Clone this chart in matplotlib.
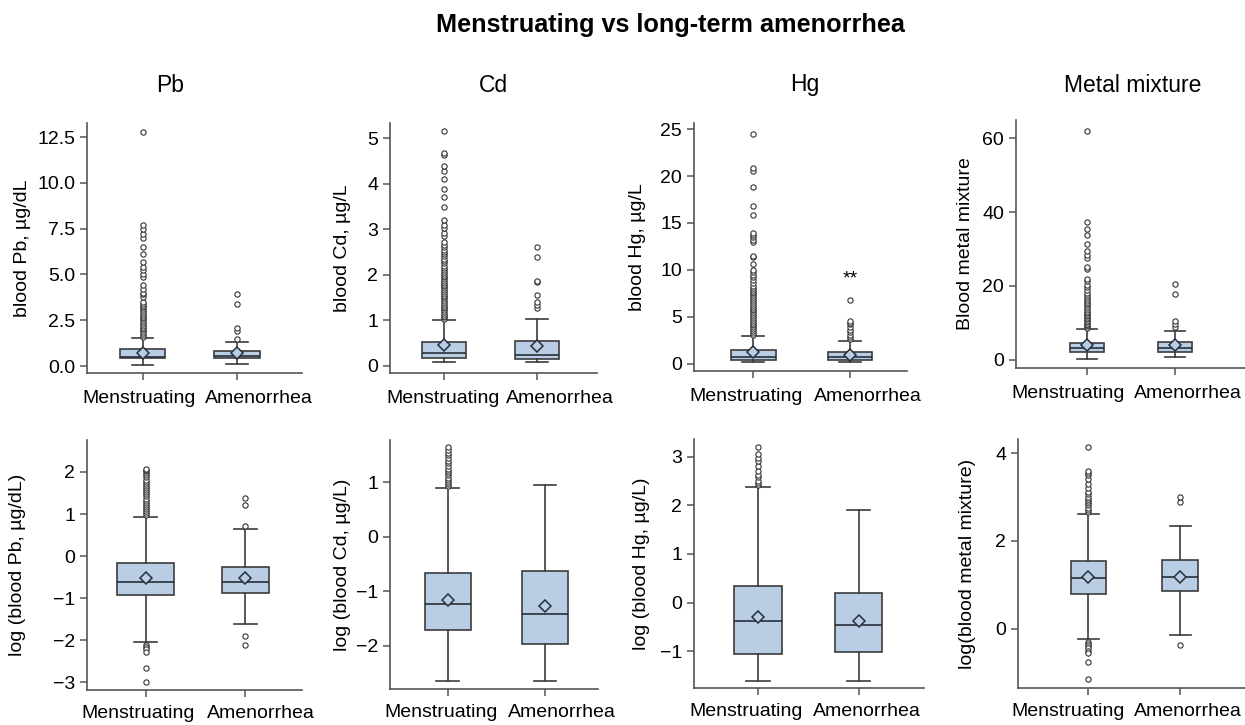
import matplotlib.pyplot as plt
from matplotlib.transforms import offset_copy

plt.rcParams["font.family"] = ["Liberation Sans", "DejaVu Sans"]

groups = ["Menstruating", "Amenorrhea"]
metals = ["Pb", "Cd", "Hg", "Metal mixture"]
raw_labels = ["blood Pb, µg/dL", "blood Cd, µg/L", "blood Hg, µg/L", "Blood metal mixture"]
log_labels = ["log (blood Pb, µg/dL)", "log (blood Cd, µg/L)", "log (blood Hg, µg/L)", "log(blood metal mixture)"]

# ---- raw concentrations (top row), [Menstruating, Amenorrhea] ----
pb_q1, pb_med, pb_q3 = [0.42, 0.45], [0.51, 0.55], [0.91, 0.82]
pb_lo, pb_hi, pb_mean = [0.08, 0.12], [1.55, 1.29], [0.72, 0.70]
pb_fl_m = [1.6, 1.7, 1.8, 1.9, 2.0, 2.1, 2.2, 2.3, 2.4, 2.5, 2.6, 2.7, 2.8, 2.9, 3.0, 3.1,
           3.2, 3.3, 3.4, 3.5, 3.78, 3.92, 4.0, 4.18, 4.45, 4.87, 5.05, 5.23, 5.41, 5.69,
           6.1, 6.5, 7.0, 7.23, 7.5, 7.72, 12.8]
pb_fl_a = [1.5, 1.93, 2.1, 3.38, 3.92]

cd_q1, cd_med, cd_q3 = [0.18, 0.14], [0.29, 0.23], [0.51, 0.54]
cd_lo, cd_hi, cd_mean = [0.08, 0.08], [1.0, 1.03], [0.45, 0.44]
cd_fl_m = [1.02, 1.06, 1.1, 1.14, 1.18, 1.22, 1.26, 1.3, 1.34, 1.38, 1.42, 1.46, 1.5, 1.54,
           1.58, 1.62, 1.66, 1.7, 1.74, 1.78, 1.82, 1.86, 1.9, 1.94, 1.98, 2.02, 2.06, 2.1,
           2.15, 2.2, 2.25, 2.3, 2.35, 2.4, 2.45, 2.5, 2.55, 2.6, 2.65, 2.71, 2.84, 2.91,
           3.02, 3.1, 3.2, 3.48, 3.7, 3.89, 4.1, 4.28, 4.39, 4.62, 4.68, 5.15]
cd_fl_a = [1.26, 1.33, 1.39, 1.55, 1.83, 1.87, 2.38, 2.6]

hg_q1, hg_med, hg_q3 = [0.43, 0.43], [0.75, 0.78], [1.46, 1.24]
hg_lo, hg_hi, hg_mean = [0.25, 0.25], [2.98, 2.49], [1.24, 1.0]
hg_fl_m = [3.1, 3.3, 3.5, 3.7, 3.9, 4.1, 4.3, 4.5, 4.7, 4.9, 5.1, 5.3, 5.5, 5.7, 5.9, 6.1,
           6.3, 6.5, 6.7, 6.9, 7.1, 7.3, 7.5, 7.7, 7.9, 8.1, 8.3, 8.6, 8.9, 9.2, 9.5, 9.8,
           10.0, 10.6, 11.4, 11.5, 13.0, 13.2, 13.5, 13.7, 13.9, 15.8, 16.8, 18.8, 20.5,
           20.9, 24.5]
hg_fl_a = [2.7, 2.9, 3.1, 3.4, 3.6, 3.9, 4.2, 4.4, 4.6, 6.8]

mx_q1, mx_med, mx_q3 = [2.08, 2.1], [3.16, 3.2], [4.5, 4.8]
mx_lo, mx_hi, mx_mean = [0.2, 0.6], [8.3, 7.85], [3.97, 3.9]
mx_fl_m = [8.6, 9.0, 9.4, 9.8, 10.2, 10.6, 11.0, 11.4, 11.8, 12.2, 12.6, 13.0, 13.5, 14.0,
           14.5, 15.0, 15.5, 16.0, 16.5, 17.0, 17.5, 18.0, 19.0, 19.7, 20.3, 21.3, 22.0,
           24.5, 25.0, 27.5, 28.3, 29.5, 31.3, 33.8, 35.5, 37.3, 62.0]
mx_fl_a = [8.9, 9.6, 10.6, 17.8, 20.5]

# ---- log concentrations (bottom row) ----
lpb_q1, lpb_med, lpb_q3 = [-0.92, -0.87], [-0.61, -0.61], [-0.17, -0.25]
lpb_lo, lpb_hi, lpb_mean = [-2.04, -1.61], [0.94, 0.64], [-0.51, -0.53]
lpb_fl_m = [0.97, 1.02, 1.07, 1.12, 1.17, 1.22, 1.27, 1.32, 1.37, 1.42, 1.47, 1.52, 1.57,
            1.62, 1.67, 1.72, 1.77, 1.82, 1.87, 1.92, 1.97, 2.02, 2.05, 2.08,
            -2.1, -2.15, -2.2, -2.28, -2.66, -2.98]
lpb_fl_a = [0.72, 1.22, 1.38, -1.9, -2.1]

lcd_q1, lcd_med, lcd_q3 = [-1.71, -1.97], [-1.235, -1.42], [-0.67, -0.63]
lcd_lo, lcd_hi, lcd_mean = [-2.65, -2.65], [0.9, 0.96], [-1.155, -1.27]
lcd_fl_m = [0.93, 0.97, 1.01, 1.05, 1.09, 1.13, 1.17, 1.21, 1.25, 1.3, 1.35, 1.4, 1.45,
            1.5, 1.55, 1.6, 1.65]
lcd_fl_a = []

lhg_q1, lhg_med, lhg_q3 = [-1.05, -1.01], [-0.38, -0.45], [0.34, 0.19]
lhg_lo, lhg_hi, lhg_mean = [-1.6, -1.6], [2.38, 1.91], [-0.29, -0.38]
lhg_fl_m = [2.42, 2.45, 2.5, 2.58, 2.62, 2.7, 2.8, 2.9, 2.98, 3.05, 3.2]
lhg_fl_a = []

lmx_q1, lmx_med, lmx_q3 = [0.79, 0.85], [1.15, 1.17], [1.55, 1.57]
lmx_lo, lmx_hi, lmx_mean = [-0.235, -0.15], [2.61, 2.35], [1.18, 1.17]
lmx_fl_m = [2.66, 2.71, 2.76, 2.81, 2.86, 2.91, 2.96, 3.01, 3.06, 3.11, 3.2, 3.3, 3.4,
            3.5, 3.55, 3.6, 4.13, -0.3, -0.35, -0.4, -0.45, -0.5, -0.55, -0.75, -1.15]
lmx_fl_a = [2.88, 3.0, -0.37]

panels = [
    (pb_q1, pb_med, pb_q3, pb_lo, pb_hi, pb_mean, [pb_fl_m, pb_fl_a]),
    (cd_q1, cd_med, cd_q3, cd_lo, cd_hi, cd_mean, [cd_fl_m, cd_fl_a]),
    (hg_q1, hg_med, hg_q3, hg_lo, hg_hi, hg_mean, [hg_fl_m, hg_fl_a]),
    (mx_q1, mx_med, mx_q3, mx_lo, mx_hi, mx_mean, [mx_fl_m, mx_fl_a]),
    (lpb_q1, lpb_med, lpb_q3, lpb_lo, lpb_hi, lpb_mean, [lpb_fl_m, lpb_fl_a]),
    (lcd_q1, lcd_med, lcd_q3, lcd_lo, lcd_hi, lcd_mean, [lcd_fl_m, lcd_fl_a]),
    (lhg_q1, lhg_med, lhg_q3, lhg_lo, lhg_hi, lhg_mean, [lhg_fl_m, lhg_fl_a]),
    (lmx_q1, lmx_med, lmx_q3, lmx_lo, lmx_hi, lmx_mean, [lmx_fl_m, lmx_fl_a]),
]
ylabels = raw_labels + log_labels

# layout (pixels: left, top, right, bottom), limits, ticks
W, H = 1245, 725
rects = [(87, 123, 302, 373), (390, 123, 597, 373), (694, 123, 907, 371), (1016, 120, 1262, 368),
         (87, 440, 302, 690), (390, 440, 598, 689), (694, 439, 924, 688), (1018, 439, 1262, 688)]
xlims = [(0.41, 2.69), (0.42, 2.645), (0.387, 2.59), (0.2, 2.98),
         (0.41, 2.57), (0.41, 2.54), (0.364, 2.65), (0.233, 2.89)]
ylims = [(-0.38, 13.27), (-0.16, 5.33), (-0.75, 25.64), (-2.26, 65),
         (-3.18, 2.76), (-2.80, 1.78), (-1.75, 3.36), (-1.35, 4.32)]
yticks = [[0, 2.5, 5, 7.5, 10, 12.5], [0, 1, 2, 3, 4, 5], [0, 5, 10, 15, 20, 25], [0, 20, 40, 60],
          [-3, -2, -1, 0, 1, 2], [-2, -1, 0, 1], [-1, 0, 1, 2, 3], [0, 2, 4]]
widths = [[0.48, 0.48], [0.48, 0.48], [0.46, 0.46], [0.38, 0.38],
          [0.57, 0.47], [0.47, 0.47], [0.47, 0.47], [0.39, 0.39]]
label_x = [-56, -39, -48, -42, -61, -39, -44, -42]
# horizontal shift of the group labels from their ticks, in pixels
xlab_shift = [(-4, 22), (-1, 23), (-7, 18), (-19, 13),
              (-8, 16), (-7, 17), (-12, 8), (-20, 8)]
xlab_drop = [-17, -17, -17, -17, -15, -15, -15, -15]

fill = "#b9cde5"
edge = "#3c3c3c"

fig = plt.figure(figsize=(W / 100, H / 100), dpi=100)

for i, (q1, med, q3, lo, hi, mean, fliers) in enumerate(panels):
    l, t, r, b = rects[i]
    ax = fig.add_axes([l / W, 1 - b / H, (r - l) / W, (b - t) / H])
    stats = []
    for g in range(2):
        stats.append(dict(label=groups[g], q1=q1[g], med=med[g], q3=q3[g],
                          whislo=lo[g], whishi=hi[g], mean=mean[g], fliers=fliers[g]))
    ax.bxp(stats, positions=[1, 2], widths=widths[i], capwidths=[0.23, 0.23],
           patch_artist=True, showmeans=True,
           boxprops=dict(facecolor=fill, edgecolor=edge, linewidth=1.2),
           whiskerprops=dict(color=edge, linewidth=1.2),
           capprops=dict(color=edge, linewidth=1.2),
           medianprops=dict(color="#27303a", linewidth=1.2),
           meanprops=dict(marker="D", markersize=6.5, markerfacecolor=fill,
                          markeredgecolor="#27303a", markeredgewidth=1.1),
           flierprops=dict(marker="o", markersize=3.8, markerfacecolor="white",
                           markeredgecolor="#333333", markeredgewidth=0.8))
    ax.set_xlim(*xlims[i])
    ax.set_ylim(*ylims[i])
    ax.set_yticks(yticks[i])
    if i == 0:
        ax.set_yticklabels(["%.1f" % v for v in yticks[i]])
    ax.set_xticks([1, 2])
    ax.set_xticklabels([])
    # group names sit a little off their ticks, as in the original figure
    for g in range(2):
        tr = offset_copy(ax.get_xaxis_transform(), fig=fig, x=xlab_shift[i][g], y=xlab_drop[i], units="dots")
        ax.text(g + 1, 0, groups[g], transform=tr, ha="center", va="top", fontsize=14)
    for s in ["top", "right"]:
        ax.spines[s].set_visible(False)
    for s in ["left", "bottom"]:
        ax.spines[s].set_color("#555555")
        ax.spines[s].set_linewidth(1.2)
    ax.tick_params(axis="both", labelsize=14, color="#555555", length=5, width=1.1)
    ax.set_ylabel(ylabels[i], fontsize=14)
    ax.yaxis.set_label_coords(label_x[i] / (r - l), 0.5)
    if i == 2:
        ax.text(2, 9.0, "**", ha="center", va="center", fontsize=14)

title_x = [170, 493, 805, 1133]
for j, name in enumerate(metals):
    fig.text(title_x[j] / W, 1 - 85 / H, name, ha="center", va="center", fontsize=16.5)

fig.text(670 / W, 1 - 25 / H, "Menstruating vs long-term amenorrhea",
         ha="center", va="center", fontsize=18.2, fontweight="bold")

fig.savefig("out.png", dpi=100)
